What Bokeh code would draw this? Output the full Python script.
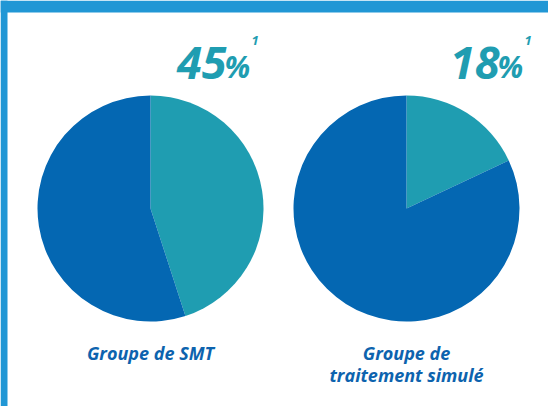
import math
from bokeh.plotting import figure
from bokeh.models import Range1d
from bokeh.core.properties import value
from bokeh.embed import file_html
from bokeh.resources import INLINE

# Data
groups = ["Groupe de SMT", "Groupe de\ntraitement simulé"]
percents = [45, 18]
pct_labels = ["45", "18"]
footnote = "1"

TEAL = "#1f9db1"
BLUE = "#0467b2"
LABEL = "#0d63ae"
BG = "#2197d5"

W, H = 548, 406
p = figure(width=W, height=H, output_backend="svg", toolbar_location=None,
           x_range=Range1d(0, W), y_range=Range1d(0, H),
           min_border=0, outline_line_color=None, background_fill_color="white",
           border_fill_color="white")
p.axis.visible = False
p.grid.visible = False

def Y(sy):
    return H - sy

# blue frame (top and left strips)
p.quad(left=0, right=W, bottom=Y(12), top=Y(0), fill_color=BG, line_color=None)
p.quad(left=0, right=7, bottom=Y(H), top=Y(0), fill_color=BG, line_color=None)

centers_x = [150, 406]
cy = Y(208)
r = 113
for cx, pct in zip(centers_x, percents):
    frac = pct / 100.0
    top = math.pi / 2
    p.wedge(x=[cx], y=[cy], radius=r, start_angle=top - 2 * math.pi * frac, end_angle=top,
            fill_color=TEAL, line_color=None)
    p.wedge(x=[cx], y=[cy], radius=r, start_angle=top, end_angle=top - 2 * math.pi * frac + 2 * math.pi,
            fill_color=BLUE, line_color=None)

font = value("Open Sans")
# percentage headline texts
num_right = [226, 499]
p.text(x=num_right, y=[Y(62)] * 2, text=pct_labels, text_font=font, text_font_size="45px",
       text_font_style="bold italic", text_color=TEAL, text_baseline="middle", text_align="right")
p.text(x=[x - 2 for x in num_right], y=[Y(66)] * 2, text=["%", "%"], text_font=font, text_font_size="30px",
       text_font_style="bold italic", text_color=TEAL, text_baseline="middle", text_align="left")
p.text(x=[x + 25 for x in num_right], y=[Y(40)] * 2, text=[footnote] * 2, text_font=font, text_font_size="13px",
       text_font_style="bold italic", text_color=TEAL, text_baseline="middle", text_align="left")

# group labels
for cx, g in zip(centers_x, groups):
    lines = g.split("\n")
    for i, line in enumerate(lines):
        p.text(x=[cx], y=[Y(352 + 22 * i)], text=[line], text_font=font, text_font_size="18px",
               text_font_style="bold italic", text_color=LABEL, text_baseline="middle", text_align="center")

open("out.html", "w").write(file_html(p, INLINE))
